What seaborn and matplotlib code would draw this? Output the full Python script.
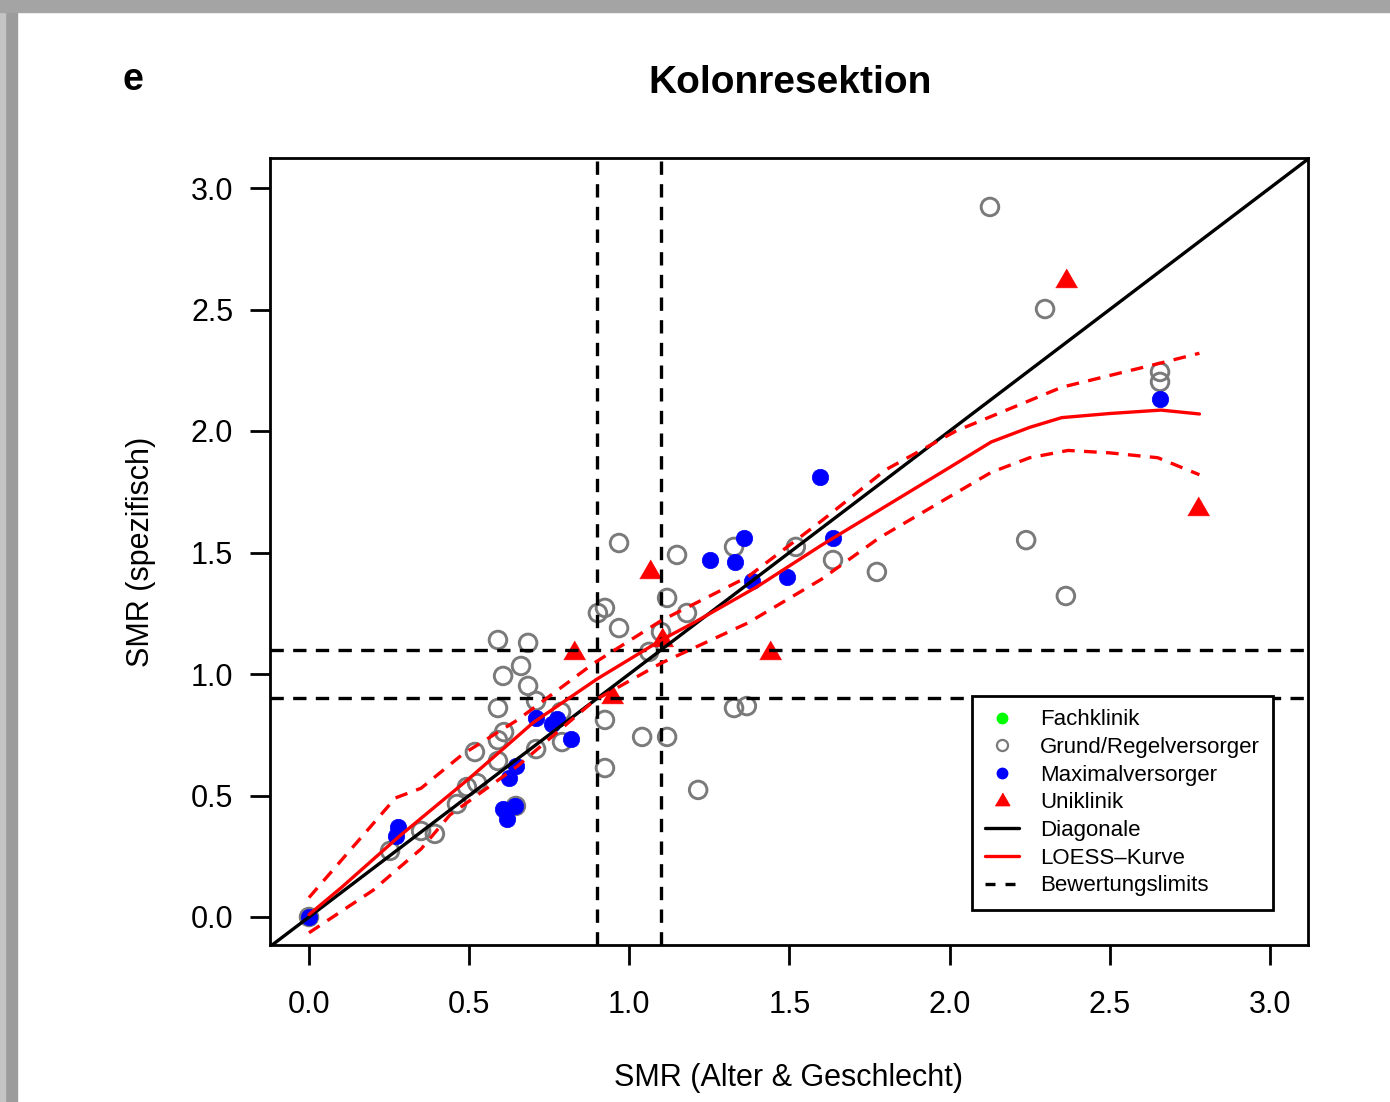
import matplotlib
matplotlib.use("Agg")
import numpy as np
import pandas as pd
import seaborn as sns
import matplotlib.pyplot as plt
from matplotlib.lines import Line2D
from matplotlib.patches import Rectangle

# ---------------- data ----------------
grund_x = [2.126, 2.298, 2.657, 2.657, 2.239, 2.363, 1.773, 1.636, 1.520, 1.327,
           0.968, 1.149, 1.118, 1.180, 0.902, 0.924, 0.968, 1.099, 1.062, 1.327,
           1.367, 0.924, 1.040, 1.118, 0.924, 1.215, 0.590, 0.684, 0.662, 0.606,
           0.684, 0.709, 0.590, 0.787, 0.609, 0.590, 0.518, 0.790, 0.709, 0.590,
           0.525, 0.493, 0.462, 0.646, 0.350, 0.393, 0.253, 0.000]
grund_y = [2.922, 2.502, 2.243, 2.202, 1.551, 1.321, 1.420, 1.469, 1.523, 1.523,
           1.539, 1.490, 1.313, 1.251, 1.251, 1.272, 1.189, 1.173, 1.091, 0.860,
           0.868, 0.811, 0.741, 0.741, 0.613, 0.523, 1.140, 1.128, 1.033, 0.992,
           0.951, 0.889, 0.860, 0.844, 0.761, 0.728, 0.679, 0.720, 0.691, 0.642,
           0.551, 0.535, 0.465, 0.457, 0.354, 0.342, 0.272, 0.000]

maxi_x = [0.000, 0.278, 0.272, 0.606, 0.618, 0.643, 0.624, 0.646, 0.709, 0.759,
          0.774, 0.818, 1.252, 1.330, 1.358, 1.383, 1.492, 1.596, 1.636, 2.657]
maxi_y = [0.000, 0.370, 0.333, 0.444, 0.403, 0.457, 0.572, 0.621, 0.819, 0.794,
          0.815, 0.733, 1.469, 1.461, 1.560, 1.383, 1.399, 1.811, 1.560, 2.132]

uni_x = [2.363, 2.776, 1.065, 0.827, 1.439, 0.946, 1.102]
uni_y = [2.617, 1.679, 1.420, 1.086, 1.086, 0.905, 1.140]

loess_x = [0.0, 0.10, 0.28, 0.50, 0.70, 0.90, 1.00, 1.10, 1.20, 1.40, 1.60, 1.80,
           2.00, 2.13, 2.25, 2.35, 2.50, 2.66, 2.78]
loess_y = [0.01, 0.12, 0.33, 0.57, 0.80, 0.98, 1.06, 1.14, 1.21, 1.36, 1.53, 1.69,
           1.85, 1.955, 2.015, 2.055, 2.072, 2.086, 2.07]

upper_x = [0.0, 0.27, 0.35, 0.48, 0.65, 0.89, 1.10, 1.37, 1.60, 1.80, 2.02, 2.35,
           2.66, 2.78]
upper_y = [0.08, 0.49, 0.53, 0.67, 0.81, 1.045, 1.22, 1.40, 1.63, 1.84, 2.00, 2.18,
           2.28, 2.32]

lower_x = [0.0, 0.20, 0.27, 0.35, 0.44, 0.65, 0.89, 1.10, 1.37, 1.60, 1.78, 2.13,
           2.25, 2.37, 2.50, 2.65, 2.78]
lower_y = [-0.065, 0.11, 0.19, 0.28, 0.42, 0.62, 0.89, 1.045, 1.21, 1.39, 1.56, 1.83,
           1.89, 1.92, 1.91, 1.89, 1.82]

limits = [0.9, 1.1]
ticks = [0.0, 0.5, 1.0, 1.5, 2.0, 2.5, 3.0]
tick_labels = ["0.0", "0.5", "1.0", "1.5", "2.0", "2.5", "3.0"]
legend_labels = ["Fachklinik", "Grund/Regelversorger", "Maximalversorger", "Uniklinik",
                 "Diagonale", "LOESS\u2013Kurve", "Bewertungslimits"]

title = "Kolonresektion"
panel = "e"
xlabel = "SMR (Alter & Geschlecht)"
ylabel = "SMR (spezifisch)"

# ---------------- style ----------------
sns.set_style("ticks")
plt.rcParams["font.family"] = ["Liberation Sans", "DejaVu Sans"]
plt.rcParams["axes.linewidth"] = 2.0
for k in ["text.color", "axes.labelcolor", "xtick.color", "ytick.color",
          "axes.edgecolor"]:
    plt.rcParams[k] = "black"

fig = plt.figure(figsize=(13.9, 11.02), dpi=100)
fig.patch.set_facecolor("white")
W, H = 1390, 1102
ax = fig.add_axes([270 / W, 1 - 945 / H, (1308 - 270) / W, (945 - 158) / H])

LW = 2.4
tri = [(-1.0, -0.577), (1.0, -0.577), (0.0, 1.155)]

grund = pd.DataFrame({"x": grund_x, "y": grund_y})
maxi = pd.DataFrame({"x": maxi_x, "y": maxi_y})
uni = pd.DataFrame({"x": uni_x, "y": uni_y})

sns.scatterplot(data=grund, x="x", y="y", ax=ax, marker="o", s=160,
                facecolor="none", edgecolor="#7a7a7a", linewidth=2.1, zorder=2)
sns.scatterplot(data=maxi, x="x", y="y", ax=ax, marker="o", s=140,
                color="#0000ff", edgecolor="#0000ff", linewidth=0.5, zorder=2)
sns.scatterplot(data=uni, x="x", y="y", ax=ax, marker=tri, s=330,
                color="#ff0000", edgecolor="#ff0000", linewidth=0.5, zorder=2)

# reference lines
ax.axline((0, 0), (1, 1), color="black", lw=LW, zorder=3)
for v in limits:
    ax.axvline(v, color="black", lw=LW, linestyle=(0, (4.0, 2.8)), zorder=3)
    ax.axhline(v, color="black", lw=LW, linestyle=(0, (4.0, 2.8)), zorder=3)

# LOESS curve and band
sns.lineplot(x=loess_x, y=loess_y, ax=ax, sort=False, estimator=None,
             color="#ff0000", lw=LW, zorder=4)
sns.lineplot(x=upper_x, y=upper_y, ax=ax, sort=False, estimator=None,
             color="#ff0000", lw=LW, linestyle=(0, (3.8, 2.8)), zorder=4)
sns.lineplot(x=lower_x, y=lower_y, ax=ax, sort=False, estimator=None,
             color="#ff0000", lw=LW, linestyle=(0, (3.8, 2.8)), zorder=4)

ax.set_xlim((270 - 309) / 320.3, (1308 - 309) / 320.3)
ax.set_ylim((917 - 945) / 243.0, (917 - 158) / 243.0)
ax.set_xticks(ticks)
ax.set_xticklabels(tick_labels)
ax.set_yticks(ticks)
ax.set_yticklabels(tick_labels)
ax.tick_params(axis="both", direction="out", length=14.4, width=2.0,
               labelsize=22, colors="black")
ax.tick_params(axis="x", pad=18)
ax.tick_params(axis="y", pad=12)
for s in ax.spines.values():
    s.set_visible(True)
    s.set_linewidth(2.0)
    s.set_color("black")

ax.set_xlabel(xlabel, fontsize=22)
ax.set_ylabel(ylabel, fontsize=22)
ax.xaxis.label.set_verticalalignment("center")
ax.xaxis.set_label_coords(0.5, (945 - 1078) / 787)
ax.yaxis.label.set_verticalalignment("center")
ax.yaxis.set_label_coords((141 - 270) / 1038, 0.5)

fig.text(790 / W, 1 - 83 / H, title, ha="center", va="center",
         fontsize=28, fontweight="bold", color="black")
fig.text(133 / W, 1 - 80 / H, panel, ha="center", va="center",
         fontsize=27, fontweight="bold", color="black")

# legend
handles = [
    Line2D([], [], ls="none", marker="o", ms=7.5, color="#00ff00"),
    Line2D([], [], ls="none", marker="o", ms=8, mfc="none", mec="#7a7a7a", mew=1.6),
    Line2D([], [], ls="none", marker="o", ms=7.5, color="#0000ff"),
    Line2D([], [], ls="none", marker=tri, ms=12, color="#ff0000"),
    Line2D([], [], color="black", lw=LW),
    Line2D([], [], color="#ff0000", lw=LW),
    Line2D([], [], color="black", lw=LW, linestyle=(0, (3.0, 3.0))),
]
leg = ax.legend(handles, legend_labels, loc="upper left",
                bbox_to_anchor=((972 - 270) / 1038, (945 - 696) / 787),
                borderaxespad=0, frameon=True, fancybox=False, framealpha=1,
                edgecolor="black", fontsize=16, handlelength=1.5,
                handletextpad=0.95, labelspacing=0.3, borderpad=0.6)
leg.get_frame().set_linewidth(2.0)
leg.set_zorder(10)

# page frame (grey border of the screenshot)
fig.patches.append(Rectangle((0, 0), 17 / W, 1, transform=fig.transFigure,
                             color="#9c9c9c", zorder=0))
fig.patches.append(Rectangle((0, 0), 5 / W, 1, transform=fig.transFigure,
                             color="#c4c4c4", zorder=0))
fig.patches.append(Rectangle((0, 1 - 12 / H), 1, 12 / H, transform=fig.transFigure,
                             color="#a4a4a4", zorder=0))

fig.savefig("out.png", dpi=100)
